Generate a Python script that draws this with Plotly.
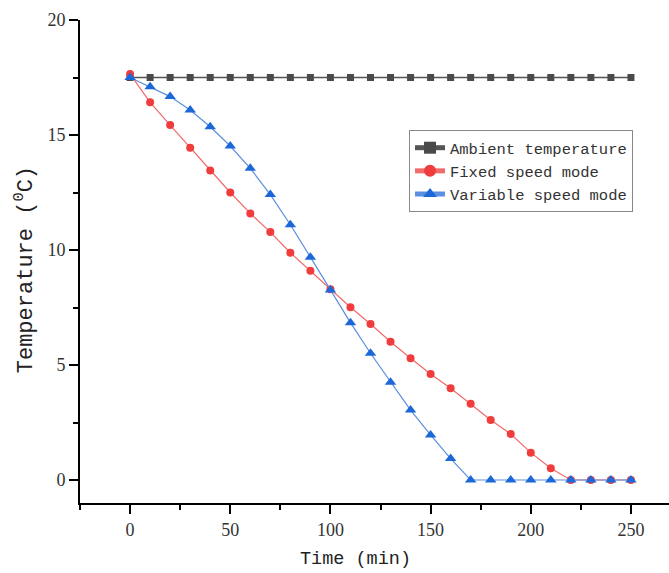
import plotly.graph_objects as go

time_min = [0, 10, 20, 30, 40, 50, 60, 70, 80, 90, 100, 110, 120, 130, 140, 150,
            160, 170, 180, 190, 200, 210, 220, 230, 240, 250]
ambient = [17.5] * 26
fixed_speed = [17.65, 16.42, 15.43, 14.45, 13.46, 12.5, 11.59, 10.78, 9.88, 9.1, 8.29,
               7.51, 6.78, 6.01, 5.29, 4.61, 3.99, 3.32, 2.61, 2.0, 1.19, 0.51,
               0, 0, 0, 0]
variable_speed = [17.5, 17.1, 16.67, 16.09, 15.36, 14.52, 13.55, 12.41, 11.1, 9.69, 8.26,
                  6.84, 5.51, 4.25, 3.04, 1.96, 0.93, 0, 0, 0, 0, 0, 0, 0, 0, 0]

fig = go.Figure()
fig.add_trace(go.Scatter(
    x=time_min, y=ambient, mode="lines+markers", name="Ambient temperature",
    line=dict(color="#555555", width=1.5),
    marker=dict(symbol="square", size=7, color="#4a4a4a")))
fig.add_trace(go.Scatter(
    x=time_min, y=fixed_speed, mode="lines+markers", name="Fixed speed mode",
    line=dict(color="#f26a6a", width=1.2),
    marker=dict(symbol="circle", size=8, color="#f03c3c")))
fig.add_trace(go.Scatter(
    x=time_min, y=variable_speed, mode="lines+markers", name="Variable speed mode",
    line=dict(color="#5b8fe0", width=1.2),
    marker=dict(symbol="triangle-up", size=10, color="#1d68d8")))

axis_common = dict(
    showgrid=False, zeroline=False, showline=True, linecolor="black", linewidth=2,
    ticks="outside", ticklen=9, tickwidth=2, tickcolor="black",
    tickfont=dict(family="Liberation Serif", size=18, color="#333333"),
    mirror=False,
)
fig.update_xaxes(**axis_common, range=[-25, 269], tickvals=[0, 50, 100, 150, 200, 250],
                 minor=dict(dtick=25, tick0=0, ticks="outside", ticklen=5, tickwidth=2,
                            tickcolor="black"))
fig.update_yaxes(**axis_common, range=[-1, 20], tickvals=[0, 5, 10, 15, 20],
                 minor=dict(dtick=2.5, tick0=0, ticks="outside", ticklen=5, tickwidth=2,
                            tickcolor="black"))

fig.add_annotation(text="Time (min)", xref="paper", yref="paper", x=0.467, y=-0.118,
                   xanchor="center", yanchor="middle", showarrow=False,
                   font=dict(family="Liberation Mono", size=18.5, color="#222222"))
fig.add_annotation(text="Temperature (<sup>0</sup>C)", xref="paper", yref="paper",
                   x=-0.095, y=0.482, xanchor="center", yanchor="middle", showarrow=False,
                   textangle=-90,
                   font=dict(family="Liberation Mono", size=22, color="#222222"))

fig.update_layout(
    width=669, height=573,
    margin=dict(l=80, r=0, t=20, b=70),
    plot_bgcolor="white", paper_bgcolor="white",
    legend=dict(x=0.5586, y=0.772, xanchor="left", yanchor="top",
                bordercolor="#888888", borderwidth=1, bgcolor="white",
                font=dict(family="Liberation Mono", size=15.5, color="#333333"),
                tracegroupgap=0, itemsizing="constant"),
)

fig.write_html("out.html")
